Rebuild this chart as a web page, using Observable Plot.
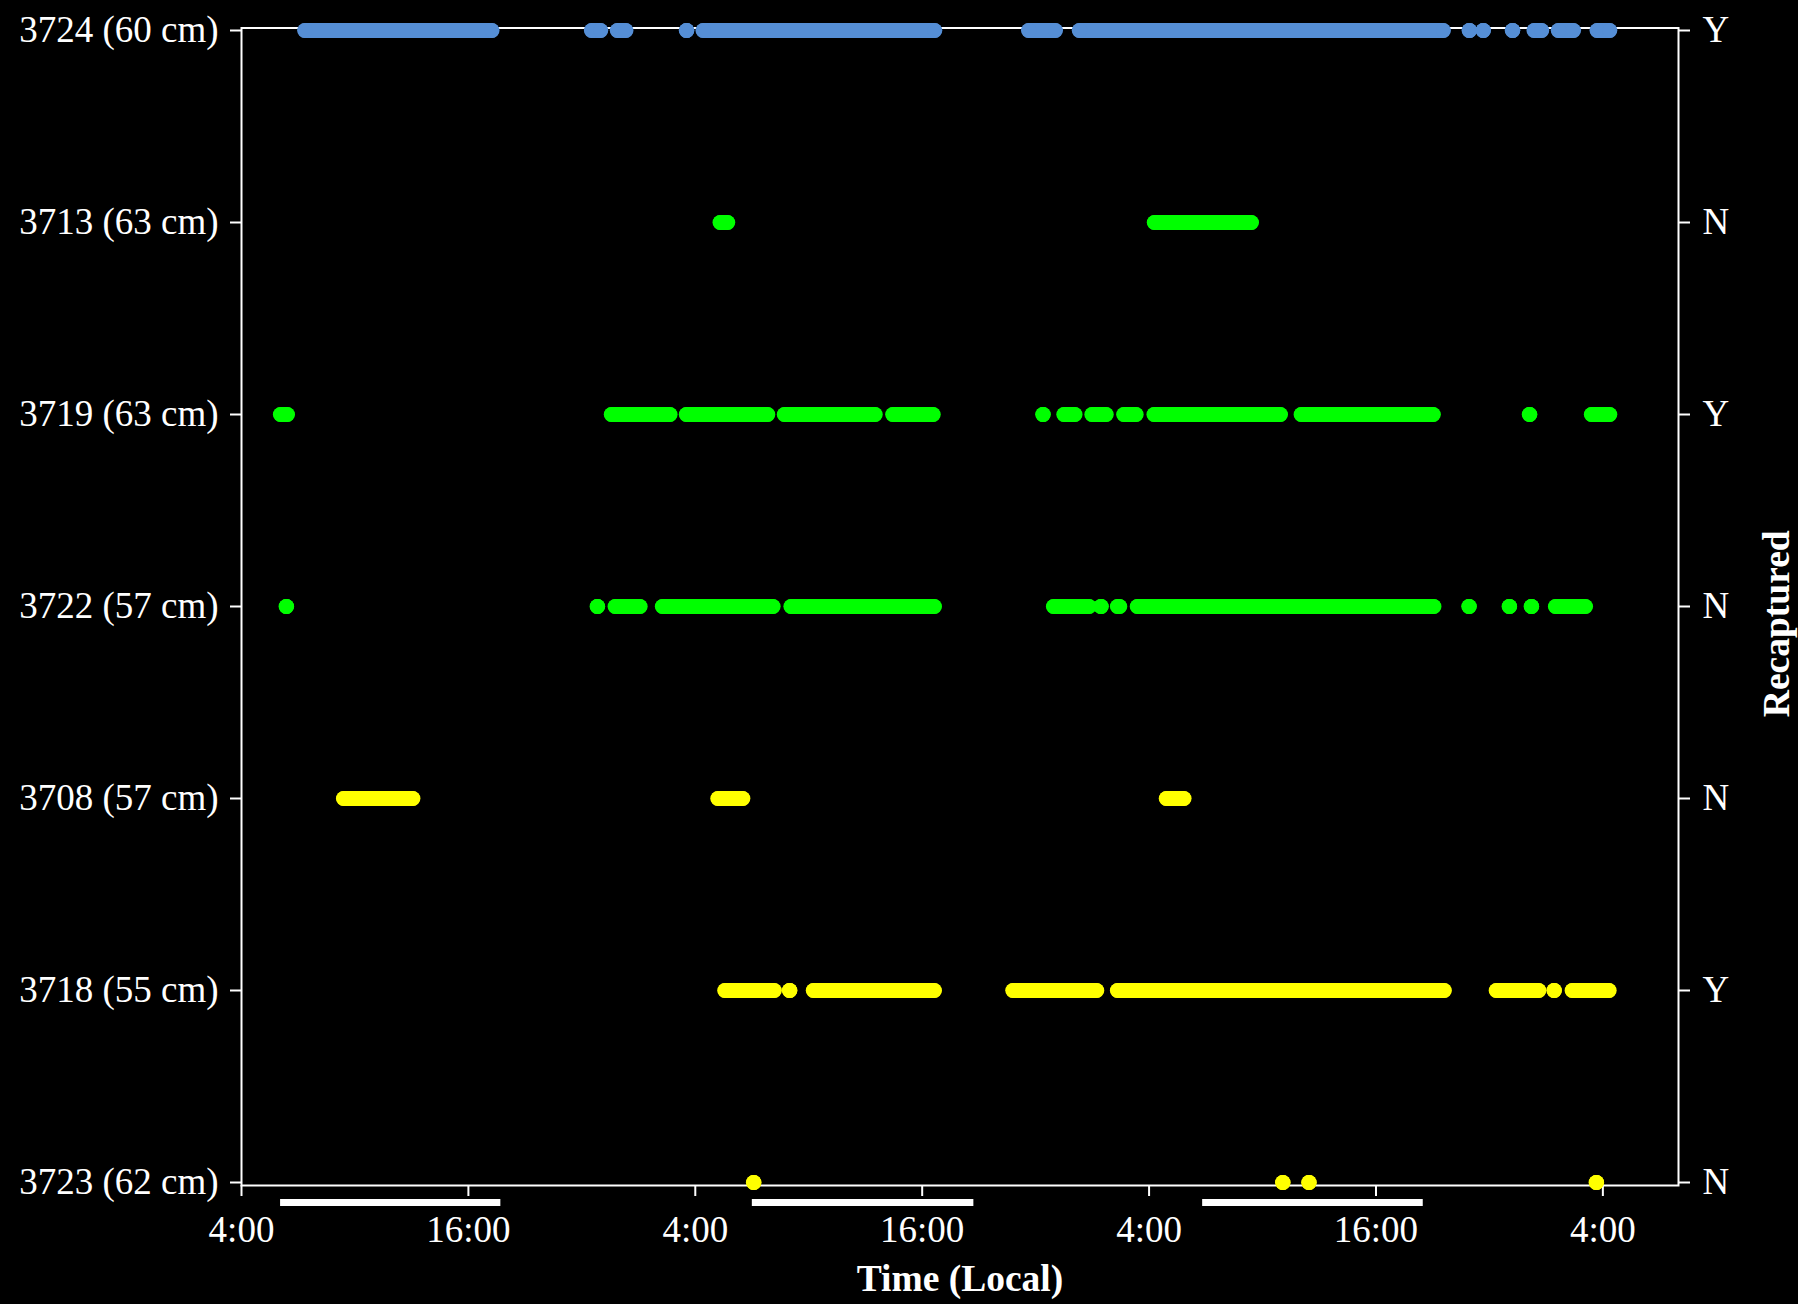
<!DOCTYPE html>
<html>
<head>
<meta charset="utf-8">
<script src="https://cdn.jsdelivr.net/npm/d3@7"></script>
<script src="https://cdn.jsdelivr.net/npm/@observablehq/plot@0.6"></script>
<style>
  html, body { margin: 0; padding: 0; background: #000; }
  #chart svg { display: block; }
</style>
</head>
<body>
<div id="chart"></div>
<script>
// Fish, top row first
const fishIds = ["3724", "3713", "3719", "3722", "3708", "3718", "3723"];
const fishLengthsCm = [60, 63, 63, 57, 57, 55, 62];
const recaptured = ["Y", "N", "Y", "N", "N", "Y", "N"];

// Detection bouts per fish: [first, last] detection ("day hh:mm"); one value = a single detection
const det3724 = [
  ["1 07:22", "1 17:15"], ["1 22:32", "1 23:00"], ["1 23:54", "2 00:20"], ["2 03:33"],
  ["2 04:26", "2 16:40"], ["2 21:39", "2 23:03"], ["3 00:20", "3 19:34"], ["3 20:57"],
  ["3 21:41"], ["3 23:14"], ["4 00:23", "4 00:46"], ["4 01:40", "4 02:27"], ["4 03:43", "4 04:22"]
];
const det3713 = [["2 05:20", "2 05:43"], ["3 04:18", "3 09:25"]];
const det3719 = [
  ["1 06:05", "1 06:26"], ["1 23:35", "2 02:40"], ["2 03:33", "2 07:50"], ["2 08:44", "2 13:31"],
  ["2 14:28", "2 16:35"], ["2 22:24"], ["2 23:31", "3 00:05"], ["3 01:00", "3 01:44"],
  ["3 02:41", "3 03:19"], ["3 04:17", "3 10:57"], ["3 12:04", "3 19:02"], ["4 00:08"],
  ["4 03:25", "4 04:22"]
];
const det3722 = [
  ["1 06:23"], ["1 22:50"], ["1 23:47", "2 01:05"], ["2 02:17", "2 08:07"], ["2 09:05", "2 16:39"],
  ["2 22:58", "3 00:50"], ["3 01:28"], ["3 02:21", "3 02:27"], ["3 03:24", "3 19:04"],
  ["3 20:56"], ["3 23:04"], ["4 00:14"], ["4 01:31", "4 03:05"]
];
const det3708 = [["1 09:25", "1 13:04"], ["2 05:13", "2 06:31"], ["3 04:56", "3 05:51"]];
const det3718 = [
  ["2 05:35", "2 08:11"], ["2 09:00"], ["2 10:16", "2 16:39"], ["2 20:49", "3 01:14"],
  ["3 02:21", "3 19:37"], ["3 22:23", "4 00:37"], ["4 01:26"], ["4 02:24", "4 04:20"]
];
const det3723 = [["2 07:06"], ["3 11:05"], ["3 12:28"], ["4 03:40"]];

// Daylight periods shown as bars under the time axis
const daylight = [["1 06:04", "1 17:43"], ["2 07:01", "2 18:44"], ["3 06:50", "3 18:30"]];

// Time axis
const timeDomain = ["1 04:00", "4 08:00"];
const timeTicks = ["1 04:00", "1 16:00", "2 04:00", "2 16:00", "3 04:00", "3 16:00", "4 04:00"];

// ---------------------------------------------------------------------------
const detections = [det3724, det3713, det3719, det3722, det3708, det3718, det3723];
const fishColors = ["#558ed5", "#00ff00", "#00ff00", "#00ff00", "#ffff00", "#ffff00", "#ffff00"];

// "d hh:mm" -> hours since midnight of day 1
function hours(s) {
  const [d, hm] = s.split(" ");
  const [h, m] = hm.split(":").map(Number);
  return (+d - 1) * 24 + h + m / 60;
}

const rowLabels = fishIds.map((id, i) => `${id} (${fishLengthsCm[i]} cm)`);
const recapByRow = new Map(rowLabels.map((r, i) => [r, recaptured[i]]));
const bottomRow = rowLabels[rowLabels.length - 1];

const bouts = detections.flatMap((list, i) =>
  list.map(b => ({fish: rowLabels[i], start: hours(b[0]), end: hours(b[b.length - 1])}))
);
const boutEnds = bouts.flatMap(b => [{fish: b.fish, t: b.start}, {fish: b.fish, t: b.end}]);
const dayBars = daylight.map(([a, b]) => ({start: hours(a), end: hours(b)}));

const axisFont = 37;
const titleFont = 37.5;

const chart = Plot.plot({
  width: 1798,
  height: 1304,
  marginLeft: 241,
  marginRight: 120,
  marginTop: 27.5,
  marginBottom: 119,
  style: {
    background: "#000",
    color: "#fff",
    fontFamily: "'Liberation Serif', 'Times New Roman', serif",
    fontSize: `${axisFont}px`
  },
  x: {domain: timeDomain.map(hours)},
  y: {type: "point", domain: rowLabels, padding: 0},
  color: {domain: rowLabels, range: fishColors},
  marks: [
    Plot.frame({stroke: "#fff", strokeWidth: 2}),
    Plot.axisY({anchor: "left", tickSize: 11, tickPadding: 12, strokeWidth: 2, fontSize: axisFont, label: null}),
    Plot.axisY({
      anchor: "right", tickSize: 11, tickPadding: 13, strokeWidth: 2, fontSize: axisFont, label: null,
      tickFormat: d => recapByRow.get(d)
    }),
    Plot.axisX({
      ticks: timeTicks.map(hours), tickSize: 11, tickPadding: 19, strokeWidth: 2, fontSize: axisFont, label: null,
      tickFormat: h => `${Math.round(h) % 24}:00`
    }),
    Plot.ruleY(dayBars, {x1: "start", x2: "end", y: () => bottomRow, dy: 20, stroke: "#fff", strokeWidth: 7}),
    Plot.ruleY(bouts, {x1: "start", x2: "end", y: "fish", stroke: "fish", strokeWidth: 15, strokeLinecap: "round"}),
    Plot.dot(boutEnds, {x: "t", y: "fish", fill: "fish", r: 7.5}),
    Plot.text(["Time (Local)"], {frameAnchor: "bottom", dy: 105, fontWeight: "bold", fontSize: titleFont}),
    Plot.text(["Recaptured"], {
      frameAnchor: "right", textAnchor: "middle", dx: 98, dy: 17, rotate: -90,
      fontWeight: "bold", fontSize: titleFont
    })
  ]
});

document.getElementById("chart").append(chart);
</script>
</body>
</html>
